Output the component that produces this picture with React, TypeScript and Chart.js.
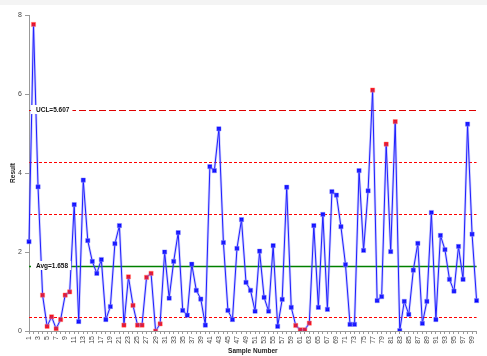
import React, { useEffect, useRef } from "react";
import { Chart, registerables } from "chart.js";

Chart.register(...registerables);

const sampleValues: number[] = [
  2.26, 7.76, 3.65, 0.91, 0.12, 0.36, 0.06, 0.29, 0.91, 0.99,
  3.2, 0.24, 3.82, 2.29, 1.76, 1.46, 1.81, 0.29, 0.62, 2.21,
  2.67, 0.15, 1.37, 0.65, 0.15, 0.15, 1.36, 1.46, 0.0, 0.18,
  2.0, 0.83, 1.76, 2.49, 0.52, 0.4, 1.69, 1.03, 0.81, 0.15,
  4.16, 4.06, 5.12, 2.24, 0.52, 0.29, 2.09, 2.82, 1.23, 1.03,
  0.5, 2.02, 0.85, 0.5, 2.16, 0.12, 0.8, 3.64, 0.6, 0.14,
  0.03, 0.03, 0.2, 2.67, 0.6, 2.95, 0.55, 3.53, 3.44, 2.64,
  1.68, 0.17, 0.17, 4.06, 2.04, 3.55, 6.1, 0.77, 0.87, 4.73,
  2.01, 5.3, 0.01, 0.75, 0.42, 1.54, 2.22, 0.19, 0.75, 3.0,
  0.29, 2.42, 2.06, 1.31, 1.01, 2.14, 1.31, 5.24, 2.45, 0.77,
];

const sampleNumbers: string[] = sampleValues.map((_, i) => String(i + 1));

// samples flagged by control rules (drawn red)
const flaggedSamples: number[] = [
  2, 4, 5, 6, 7, 8, 9, 10, 22, 23, 24, 25, 26, 27, 28, 29, 30, 60, 61, 62, 63, 77, 80, 82,
];

const UCL = 5.607;
const AVG = 1.658;
const zoneLines: number[] = [0.342, 2.974, 4.291];
const yTicks: number[] = [0, 2, 4, 6, 8];

const FONT = "'Liberation Sans', Arial, sans-serif";

export default function App() {
  const ref = useRef<HTMLCanvasElement | null>(null);

  useEffect(() => {
    document.body.style.margin = "0";
    const canvas = ref.current;
    if (!canvas) return;

    const flagged = new Set(flaggedSamples);
    const pointFill = sampleValues.map((_, i) => (flagged.has(i + 1) ? "#ff0000" : "#0000ff"));
    const pointEdge = sampleValues.map((_, i) =>
      flagged.has(i + 1) ? "rgba(255,140,140,0.5)" : "rgba(140,140,255,0.5)"
    );

    const bgPlugin = {
      id: "bg",
      beforeDraw(chart: any) {
        const ctx = chart.ctx;
        ctx.save();
        ctx.fillStyle = "#ffffff";
        ctx.fillRect(0, 0, chart.width, chart.height);
        ctx.fillStyle = "#f4f4f4";
        ctx.fillRect(0, 0, chart.width, 5);
        ctx.restore();
      },
    };

    const refLines = {
      id: "refLines",
      beforeDatasetsDraw(chart: any) {
        const { ctx, chartArea, scales } = chart;
        const y = scales.y;
        ctx.save();
        ctx.strokeStyle = "#ff0000";
        ctx.lineWidth = 1;
        ctx.setLineDash([3, 2]);
        zoneLines.forEach((v) => {
          const py = Math.round(y.getPixelForValue(v)) + 0.5;
          ctx.beginPath();
          ctx.moveTo(chartArea.left, py);
          ctx.lineTo(chartArea.right, py);
          ctx.stroke();
        });
        ctx.setLineDash([7, 3]);
        ctx.lineWidth = 1;
        ctx.strokeStyle = "#e00000";
        let py = Math.round(y.getPixelForValue(UCL)) + 0.5;
        ctx.beginPath();
        ctx.moveTo(chartArea.left, py);
        ctx.lineTo(chartArea.right, py);
        ctx.stroke();
        ctx.setLineDash([]);
        ctx.lineWidth = 1.3;
        ctx.strokeStyle = "#008000";
        py = Math.round(y.getPixelForValue(AVG)) + 0.5;
        ctx.beginPath();
        ctx.moveTo(chartArea.left, py);
        ctx.lineTo(chartArea.right, py);
        ctx.stroke();
        ctx.restore();
      },
      afterDatasetsDraw(chart: any) {
        const { ctx, chartArea, scales } = chart;
        const y = scales.y;
        ctx.save();
        ctx.font = "bold 6.5px " + FONT;
        ctx.textBaseline = "middle";
        ctx.textAlign = "left";
        const labels: [string, number][] = [
          ["UCL=" + UCL.toFixed(3), UCL],
          ["Avg=" + AVG.toFixed(3), AVG],
        ];
        labels.forEach(([t, v]) => {
          const py = y.getPixelForValue(v);
          const x = chartArea.left + 7;
          const w = ctx.measureText(t).width;
          ctx.fillStyle = "#ffffff";
          ctx.fillRect(x - 5, py - 4.5, w + 8, 9);
          ctx.fillStyle = "#111111";
          ctx.fillText(t, x, py + 0.5);
        });
        ctx.restore();
      },
    };

    const chart = new Chart(canvas, {
      type: "line",
      data: {
        labels: sampleNumbers,
        datasets: [
          {
            label: "glow",
            data: sampleValues,
            borderColor: "rgba(100,100,255,0.3)",
            borderWidth: 2.6,
            borderJoinStyle: "round",
            pointRadius: 0,
            fill: false,
            tension: 0,
          },
          {
            label: "Result",
            data: sampleValues,
            borderColor: "#0000ff",
            borderWidth: 1,
            pointStyle: "rect",
            pointRadius: 3,
            pointBackgroundColor: pointFill,
            pointBorderColor: pointEdge,
            pointBorderWidth: 1,
            fill: false,
            tension: 0,
          },
        ],
      },
      options: {
        responsive: false,
        animation: false,
        devicePixelRatio: 1,
        layout: { padding: { top: 15, right: 5, left: 0, bottom: 0 } },
        plugins: {
          legend: { display: false },
          tooltip: { enabled: false },
        },
        scales: {
          x: {
            type: "category",
            offset: false,
            grid: {
              display: true,
              drawOnChartArea: false,
              drawTicks: true,
              tickLength: 3,
              color: "#999999",
            },
            border: { display: true, color: "#999999", width: 1 },
            ticks: {
              autoSkip: false,
              minRotation: 90,
              maxRotation: 90,
              padding: 2,
              color: "#444444",
              font: { family: FONT, size: 7 },
              callback: (_v: any, i: number) => (i % 2 === 0 ? sampleNumbers[i] : ""),
            },
            title: {
              display: true,
              text: "Sample Number",
              color: "#222222",
              font: { family: FONT, size: 6.5, weight: "bold" },
              padding: { top: 0, bottom: 1 },
            },
            afterFit: (s: any) => {
              s.height = 25;
            },
          },
          y: {
            min: 0,
            max: 8,
            afterBuildTicks: (s: any) => {
              s.ticks = yTicks.map((v) => ({ value: v }));
            },
            grid: {
              display: true,
              drawOnChartArea: false,
              drawTicks: true,
              tickLength: 4,
              color: "#999999",
            },
            border: { display: true, color: "#999999", width: 1 },
            ticks: {
              padding: 3,
              color: "#444444",
              font: { family: FONT, size: 7 },
            },
            title: {
              display: true,
              text: "Result",
              color: "#222222",
              font: { family: FONT, size: 6.5, weight: "bold" },
              padding: { top: 9, bottom: 0 },
            },
            afterFit: (s: any) => {
              s.width = 29;
            },
          },
        },
      },
      plugins: [bgPlugin, refLines],
    });

    return () => chart.destroy();
  }, []);

  return (
    <div style={{ width: 487, height: 356, margin: 0, padding: 0 }}>
      <canvas ref={ref} width={487} height={356} style={{ display: "block", width: 487, height: 356 }} />
    </div>
  );
}
